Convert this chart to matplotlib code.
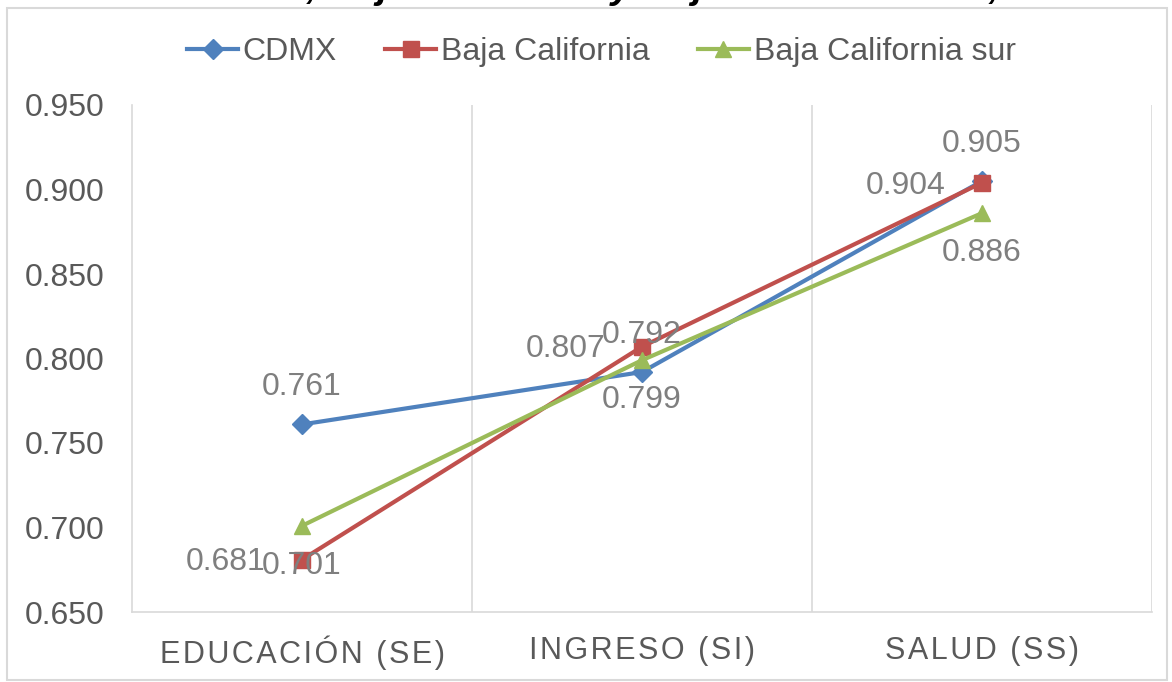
import matplotlib.pyplot as plt
from matplotlib.patches import Rectangle

plt.rcParams['font.family'] = ['Liberation Sans', 'DejaVu Sans']

categorias = ['EDUCACIÓN (SE)', 'INGRESO (SI)', 'SALUD (SS)']
cdmx = [0.761, 0.792, 0.905]
baja_california = [0.681, 0.807, 0.904]
baja_california_sur = [0.701, 0.799, 0.886]
y_ticks = [0.650, 0.700, 0.750, 0.800, 0.850, 0.900, 0.950]

gris = '#595959'
gris_etq = '#7f7f7f'
fs = 23

fig = plt.figure(figsize=(11.72, 6.82), dpi=100)
ax = fig.add_axes([132 / 1172, 1 - 612 / 682, 1020 / 1172, 507 / 682])

x = list(range(len(categorias)))

ax.plot(x, cdmx, color='#4f81bd', lw=3, marker='D', ms=10, label='CDMX', zorder=3)
ax.plot(x, baja_california, color='#c0504d', lw=3, marker='s', ms=11, label='Baja California', zorder=3)
ax.plot(x, baja_california_sur, color='#9bbb59', lw=3, marker='^', ms=12, label='Baja California sur', zorder=3)

# etiquetas de datos
for xi, v in zip(x, cdmx):
    ax.annotate(f'{v:.3f}', (xi, v), xytext=(0, 27), textcoords='offset points',
                ha='center', va='center', fontsize=fs, color=gris_etq)
for xi, v in zip(x, baja_california):
    ax.annotate(f'{v:.3f}', (xi, v), xytext=(-26, -2), textcoords='offset points',
                ha='right', va='center', fontsize=fs, color=gris_etq)
for xi, v in zip(x, baja_california_sur):
    ax.annotate(f'{v:.3f}', (xi, v), xytext=(0, -29), textcoords='offset points',
                ha='center', va='center', fontsize=fs, color=gris_etq)

ax.set_xlim(-0.5, 2.5)
ax.set_ylim(0.650, 0.950)
ax.set_yticks(y_ticks)
ax.set_yticklabels([f'{t:.3f}' for t in y_ticks])
ax.set_xticks(x)
# espaciado entre letras como en el original
ax.set_xticklabels(['\u200a'.join(c) for c in categorias])
ax.set_xticks([0.5, 1.5, 2.5], minor=True)
ax.grid(axis='x', which='minor', color='#d9d9d9', lw=1.2)
ax.tick_params(which='both', length=0)
ax.tick_params(axis='y', labelsize=fs, labelcolor=gris, pad=20)
ax.tick_params(axis='x', labelsize=fs - 1, labelcolor=gris, pad=17)
for s in ['top', 'right']:
    ax.spines[s].set_visible(False)
for s in ['left', 'bottom']:
    ax.spines[s].set_color('#d9d9d9')
    ax.spines[s].set_linewidth(1.2)

ax.legend(loc='upper center', bbox_to_anchor=(0.513, 1.0), bbox_transform=fig.transFigure,
          ncol=3, frameon=False, fontsize=fs, labelcolor=gris, handlelength=1.6,
          handletextpad=0.15, columnspacing=1.5, borderaxespad=0.75)

# borde del gráfico
fig.patches.append(Rectangle((7 / 1172, 2 / 682), 1160 / 1172, 672 / 682, transform=fig.transFigure,
                             fill=False, edgecolor='#d9d9d9', lw=1.5))

# título (recortado en la parte superior)
fig.text(0.55, 1 + 2 / 682, 'CDMX, Baja California y Baja California Sur, 2015', ha='center', va='baseline',
         fontsize=28, fontweight='bold', fontstyle='italic', color='black')

fig.savefig('out.png', dpi=100)
